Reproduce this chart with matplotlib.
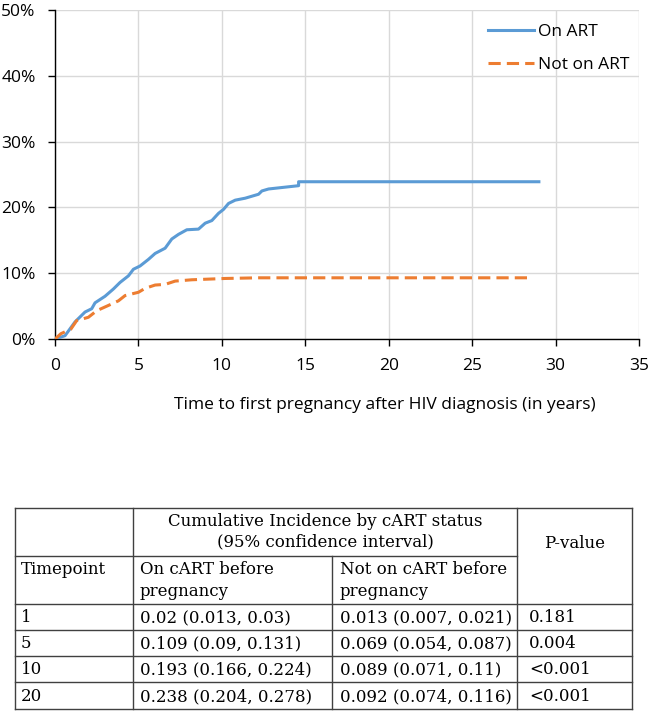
import matplotlib
matplotlib.use("Agg")
import matplotlib.pyplot as plt
from matplotlib.ticker import PercentFormatter

# ----------------- data -----------------
# cumulative incidence (%)
on_art_years = [0, 0.6, 1.2, 1.8, 2.2, 2.4, 3.0, 3.5, 3.9, 4.4, 4.7, 5.1, 5.6, 6.0, 6.6, 7.0,
                7.4, 7.9, 8.6, 9.0, 9.4, 9.8, 10.1, 10.4, 10.8, 11.4, 12.2, 12.4, 12.8, 14.6, 14.6, 29.0]
on_art_pct = [0, 0.5, 2.6, 4.1, 4.6, 5.5, 6.5, 7.6, 8.6, 9.6, 10.6, 11.1, 12.1, 13.0, 13.8, 15.2,
              15.9, 16.6, 16.7, 17.6, 18.0, 19.1, 19.7, 20.6, 21.1, 21.4, 22.0, 22.5, 22.8, 23.3, 23.9, 23.9]

not_art_years = [0, 0.35, 0.95, 1.3, 2.0, 2.5, 3.2, 3.8, 4.2, 5.0, 5.4, 6.0, 6.6, 7.2, 8.2, 10.2, 12.2, 28.6]
not_art_pct = [0, 0.8, 1.5, 2.8, 3.3, 4.3, 5.1, 5.8, 6.6, 7.1, 7.7, 8.2, 8.3, 8.8, 9.0, 9.2, 9.3, 9.3]

series_labels = ["On ART", "Not on ART"]

# table contents
table_header_top = ["Cumulative Incidence by cART status", "(95% confidence interval)"]
table_header_pvalue = "P-value"
table_header_row = ["Timepoint", "On cART before\npregnancy", "Not on cART before\npregnancy", ""]
timepoints = ["1", "5", "10", "20"]
on_cart_ci = ["0.02 (0.013, 0.03)", "0.109 (0.09, 0.131)", "0.193 (0.166, 0.224)", "0.238 (0.204, 0.278)"]
not_cart_ci = ["0.013 (0.007, 0.021)", "0.069 (0.054, 0.087)", "0.089 (0.071, 0.11)", "0.092 (0.074, 0.116)"]
p_values = ["0.181", "0.004", "<0.001", "<0.001"]

# ----------------- figure -----------------
W, H = 652, 712
fig = plt.figure(figsize=(W / 100, H / 100), dpi=100)
sans = ["Open Sans", "DejaVu Sans"]
serif = ["DejaVu Serif"]
sfs = 12.5

# chart area in pixels: x 55..639, y 10..339
ax = fig.add_axes([55 / W, (H - 339) / H, 584 / W, 329 / H])
blue = "#5B9BD5"
orange = "#ED7D31"
ax.plot(on_art_years, on_art_pct, color=blue, lw=2.2, label=series_labels[0], zorder=3)
ax.plot(not_art_years, not_art_pct, color=orange, lw=2.2, dashes=(4, 2),
        label=series_labels[1], zorder=3)

ax.set_xlim(0, 35)
ax.set_ylim(0, 50)
ax.set_xticks(range(0, 36, 5))
ax.set_yticks(range(0, 51, 10))
ax.yaxis.set_major_formatter(PercentFormatter(decimals=0))
ax.grid(True, color="#d9d9d9", lw=1)
ax.set_axisbelow(True)
for s in ["top", "right"]:
    ax.spines[s].set_visible(False)
for s in ["left", "bottom"]:
    ax.spines[s].set_color("black")
    ax.spines[s].set_linewidth(1)
ax.tick_params(direction="out", length=5, width=1, color="black", labelsize=sfs)
ax.tick_params(axis="x", pad=9)
ax.tick_params(axis="y", pad=9)
for lab in ax.get_xticklabels() + ax.get_yticklabels():
    lab.set_fontfamily(sans)

ax.set_xlabel("Time to first pregnancy after HIV diagnosis (in years)", fontsize=sfs,
              family=sans)
ax.xaxis.set_label_coords(0.565, -0.175)

leg = ax.legend(loc="upper left", bbox_to_anchor=(0.715, 1.005), frameon=False,
                prop={"family": sans, "size": sfs}, handlelength=2.65,
                handletextpad=0.2, labelspacing=0.95)

# ----------------- table -----------------
tax = fig.add_axes([0, 0, 1, 1])
tax.set_xlim(0, W)
tax.set_ylim(H, 0)
tax.axis("off")

col_x = [15, 133, 332, 517, 632]
row_y = [508, 556, 604, 630, 656, 682, 709]
lc = "#404040"
# outer border and row lines
for y in row_y:
    if y == 556:
        # the p-value cell spans both header rows
        tax.plot([col_x[0], col_x[3]], [y, y], color=lc, lw=1)
    else:
        tax.plot([col_x[0], col_x[-1]], [y, y], color=lc, lw=1)
for i, x in enumerate(col_x):
    if i == 2:
        tax.plot([x, x], [556, row_y[-1]], color=lc, lw=1)
    else:
        tax.plot([x, x], [row_y[0], row_y[-1]], color=lc, lw=1)

fs = 12
tax.text((col_x[1] + col_x[3]) / 2, 521, table_header_top[0], ha="center", va="center",
         fontsize=fs, family=serif)
tax.text((col_x[1] + col_x[3]) / 2, 542, table_header_top[1], ha="center", va="center",
         fontsize=fs, family=serif)
tax.text((col_x[3] + col_x[4]) / 2, 544, table_header_pvalue, ha="center", va="center",
         fontsize=fs, family=serif)

pads = [6, 7, 8, 12]
for j, txt in enumerate(table_header_row):
    for k, line in enumerate(txt.split("\n")):
        tax.text(col_x[j] + pads[j], 570 + 22 * k, line, ha="left", va="center",
                 fontsize=fs, family=serif)

for i in range(len(timepoints)):
    yc = (row_y[i + 2] + row_y[i + 3]) / 2 + 1
    cells = [timepoints[i], on_cart_ci[i], not_cart_ci[i], p_values[i]]
    for j, txt in enumerate(cells):
        tax.text(col_x[j] + pads[j], yc, txt, ha="left", va="center", fontsize=fs, family=serif)

fig.savefig("out.png", dpi=100)
